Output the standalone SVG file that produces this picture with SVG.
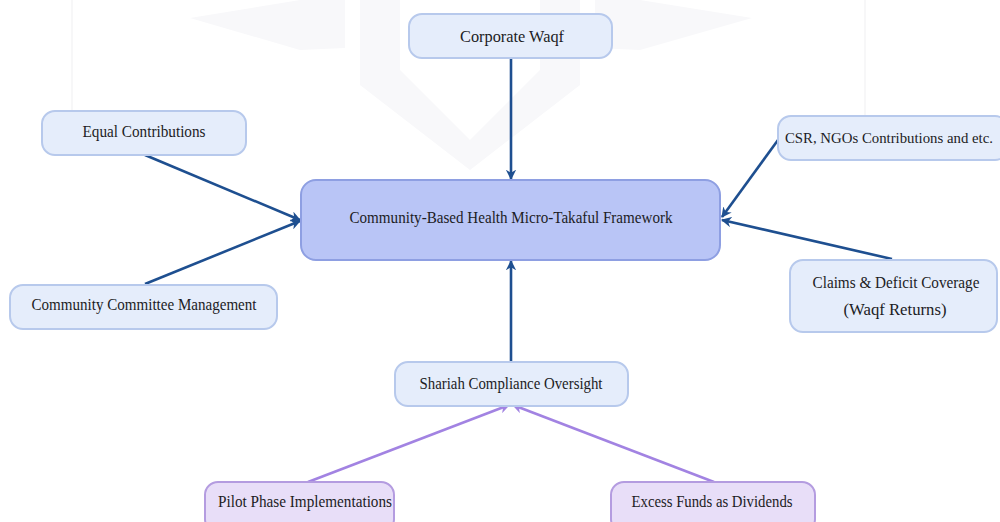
<svg xmlns="http://www.w3.org/2000/svg" width="1000" height="522" viewBox="0 0 1000 522">
  <defs>
    <style>
      .bg { fill: #ffffff; }
      .mark { fill: #f8f8fa; }
      .guide { stroke: #efeff1; stroke-width: 1; }
      .node { fill: #e5edfb; stroke: #b7c9ec; stroke-width: 2; }
      .core { fill: #b9c5f6; stroke: #8e9fe2; stroke-width: 2; }
      .soft { fill: #e8def8; stroke: #b49ce0; stroke-width: 2; }
      .label { font-family: "Liberation Serif", "Times New Roman", serif; font-size: 17px; fill: #1c1c24; text-anchor: middle; }
      .small { font-size: 15px; }
      .link { fill: none; stroke: #1e4f90; stroke-width: 2.6; }
      .link-soft { fill: none; stroke: #a283e2; stroke-width: 2.6; }
    </style>
    <marker id="arrow-blue" viewBox="0 0 10 10" refX="9" refY="5" markerWidth="4" markerHeight="4" orient="auto" markerUnits="strokeWidth">
      <path d="M0,0 L10,5 L0,10 L3,5 Z" fill="#1e4f90"/>
    </marker>
    <marker id="arrow-purple" viewBox="0 0 10 10" refX="9" refY="5" markerWidth="4" markerHeight="4" orient="auto" markerUnits="strokeWidth">
      <path d="M0,0 L10,5 L0,10 L3,5 Z" fill="#a283e2"/>
    </marker>
  </defs>

  <rect class="bg" x="0" y="0" width="1000" height="522"/>

  <!-- faint background emblem -->
  <g id="emblem">
    <path class="mark" d="M190,18 L300,0 L345,0 L345,48 L300,50 Z"/>
    <path class="mark" d="M752,18 L640,0 L595,0 L595,48 L640,50 Z"/>
    <path class="mark" d="M360,0 L400,0 L400,70 L470,140 L540,70 L540,0 L580,0 L580,85 L470,170 L360,85 Z"/>
    <line class="guide" x1="72" y1="0" x2="72" y2="114"/>
    <line class="guide" x1="865" y1="0" x2="865" y2="120"/>
  </g>

  <!-- connectors -->
  <g id="connectors">
    <line class="link" x1="511" y1="58" x2="511" y2="179" marker-end="url(#arrow-blue)"/>
    <line class="link" x1="145" y1="155" x2="300" y2="220" marker-end="url(#arrow-blue)"/>
    <line class="link" x1="145" y1="284" x2="300" y2="221" marker-end="url(#arrow-blue)"/>
    <line class="link" x1="778" y1="140" x2="722" y2="217" marker-end="url(#arrow-blue)"/>
    <line class="link" x1="892" y1="259" x2="722" y2="220" marker-end="url(#arrow-blue)"/>
    <line class="link" x1="511" y1="362" x2="511" y2="261" marker-end="url(#arrow-blue)"/>
    <line class="link-soft" x1="308" y1="482" x2="509" y2="405" marker-end="url(#arrow-purple)"/>
    <line class="link-soft" x1="714" y1="482" x2="513" y2="405" marker-end="url(#arrow-purple)"/>
  </g>

  <g id="corporate-waqf">
    <rect class="node" x="409" y="14" width="203" height="44" rx="13"/>
    <text class="label" x="512" y="42" textLength="104" lengthAdjust="spacingAndGlyphs">Corporate Waqf</text>
  </g>

  <g id="equal-contributions">
    <rect class="node" x="42" y="111" width="204" height="44" rx="13"/>
    <text class="label" x="144" y="137" textLength="123" lengthAdjust="spacingAndGlyphs">Equal Contributions</text>
  </g>

  <g id="framework">
    <rect class="core" x="301" y="180" width="419" height="80" rx="15"/>
    <text class="label" x="511" y="223" textLength="323" lengthAdjust="spacingAndGlyphs">Community-Based Health Micro-Takaful Framework</text>
  </g>

  <g id="csr-ngos">
    <rect class="node" x="778" y="116" width="230" height="44" rx="13"/>
    <text class="label small" x="889" y="143" textLength="208" lengthAdjust="spacingAndGlyphs">CSR, NGOs Contributions and etc.</text>
  </g>

  <g id="committee">
    <rect class="node" x="10" y="285" width="267" height="44" rx="13"/>
    <text class="label" x="144" y="310" textLength="225" lengthAdjust="spacingAndGlyphs">Community Committee Management</text>
  </g>

  <g id="claims-coverage">
    <rect class="node" x="790" y="260" width="207" height="72" rx="13"/>
    <text class="label" x="896" y="288" textLength="167" lengthAdjust="spacingAndGlyphs">Claims &amp; Deficit Coverage</text>
    <text class="label" x="895" y="315" textLength="103" lengthAdjust="spacingAndGlyphs">(Waqf Returns)</text>
  </g>

  <g id="shariah">
    <rect class="node" x="395" y="362" width="233" height="44" rx="13"/>
    <text class="label" x="511" y="389" textLength="183" lengthAdjust="spacingAndGlyphs">Shariah Compliance Oversight</text>
  </g>

  <g id="pilot-phase">
    <rect class="soft" x="205" y="482" width="189" height="50" rx="13"/>
    <text class="label" x="305" y="507" textLength="174" lengthAdjust="spacingAndGlyphs">Pilot Phase Implementations</text>
  </g>

  <g id="excess-funds">
    <rect class="soft" x="611" y="482" width="204" height="50" rx="13"/>
    <text class="label" x="712" y="507" textLength="161" lengthAdjust="spacingAndGlyphs">Excess Funds as Dividends</text>
  </g>
</svg>
